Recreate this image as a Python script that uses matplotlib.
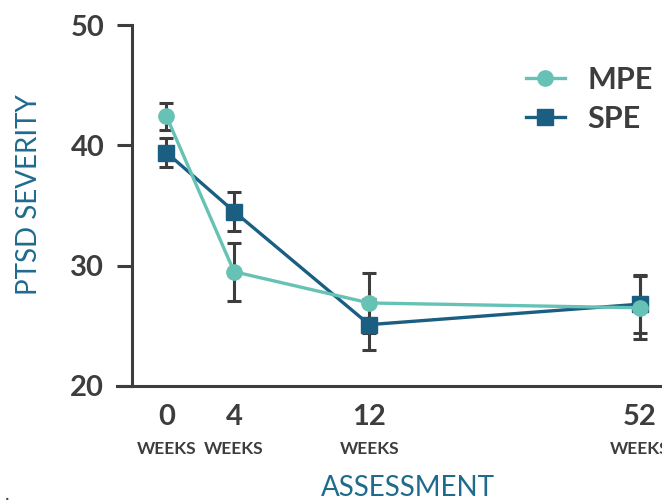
import matplotlib
matplotlib.use('Agg')
import matplotlib.pyplot as plt
from matplotlib.lines import Line2D

plt.rcParams['font.family'] = ['Lato', 'DejaVu Sans']

# data
weeks = ['0', '4', '12', '52']
x_pos = [0, 1, 3, 7]          # uneven spacing used in the original
mpe = [42.4, 29.5, 26.9, 26.5]
mpe_err = [1.1, 2.4, 2.5, 2.6]
spe = [39.4, 34.5, 25.1, 26.8]
spe_err = [1.2, 1.65, 2.1, 2.4]

MPE_C = '#66c2b4'
SPE_C = '#1a5f82'
DARK = '#3d3d3d'
LABEL_C = '#1f6b8e'

fig = plt.figure(figsize=(6.62, 5.03), dpi=100)
ax = fig.add_axes([132/662, 1-386/503, 1-132/662, (386-25)/503])

# error bars first, then lines on top
ax.errorbar(x_pos, spe, yerr=spe_err, fmt='none', ecolor=DARK, elinewidth=2.2,
            capsize=5, capthick=2.2, zorder=2)
ax.errorbar(x_pos, mpe, yerr=mpe_err, fmt='none', ecolor=DARK, elinewidth=2.2,
            capsize=5, capthick=2.2, zorder=2)
ax.plot(x_pos, spe, '-s', color=SPE_C, lw=2.4, ms=11, zorder=3, clip_on=False)
ax.plot(x_pos, mpe, '-o', color=MPE_C, lw=2.4, ms=11, zorder=4, clip_on=False)

ax.set_ylim(20, 50)
ax.set_xlim(-0.51, (662-166.5)/67.6)
ax.set_yticks([20, 30, 40, 50])
ax.tick_params(axis='y', length=11, width=2.2, color=DARK, pad=9,
               labelsize=21, labelcolor=DARK)
for lb in ax.get_yticklabels():
    lb.set_fontweight('bold')
ax.set_xticks([])

for s in ['top', 'right']:
    ax.spines[s].set_visible(False)
for s in ['left', 'bottom']:
    ax.spines[s].set_color(DARK)
    ax.spines[s].set_linewidth(2.2)
ax.spines['bottom'].set_bounds(-0.51 - 15/67.6, 10)

for x, w in zip(x_pos, weeks):
    ax.annotate(w, xy=(x, 0), xycoords=('data', 'axes fraction'),
                xytext=(0, -22), textcoords='offset points', ha='center', va='center',
                fontsize=21, fontweight='bold', color=DARK, annotation_clip=False)
    ax.annotate('WEEKS', xy=(x, 0), xycoords=('data', 'axes fraction'),
                xytext=(0, -45), textcoords='offset points', ha='center', va='center',
                fontsize=12.5, fontweight='bold', color=DARK, annotation_clip=False)

fig.text(29/662, 1-195/503, 'PTSD SEVERITY', rotation=90, ha='center', va='center',
         fontsize=20, color=LABEL_C)
fig.text(408/662, 1-488/503, 'ASSESSMENT', ha='center', va='center',
         fontsize=20, color=LABEL_C)
fig.text(5/662, 1-495/503, '.', ha='left', va='center', fontsize=14, color=DARK)

handles = [Line2D([], [], color=MPE_C, marker='o', lw=2.4, ms=11),
           Line2D([], [], color=SPE_C, marker='s', lw=2.4, ms=11)]
leg = fig.legend(handles, ['MPE', 'SPE'], loc='upper left',
                 bbox_to_anchor=(526/662, 1-66/503), frameon=False,
                 fontsize=22, handlelength=1.27, handletextpad=0.75,
                 labelspacing=0.35, borderpad=0, borderaxespad=0)
for t in leg.get_texts():
    t.set_color(DARK)
    t.set_fontweight('bold')

fig.savefig('out.png', dpi=100)
